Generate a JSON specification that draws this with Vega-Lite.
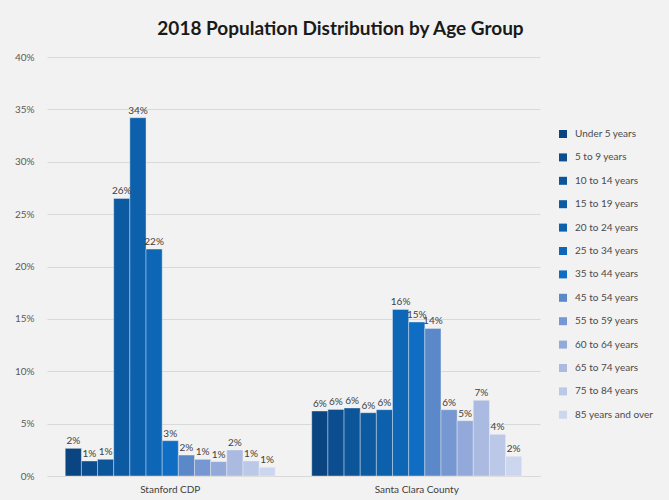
{
  "$schema": "https://vega.github.io/schema/vega-lite/v6.json",
  "width": 493,
  "height": 419,
  "autosize": {"type": "none"},
  "padding": {"left": 47, "top": 57, "right": 129, "bottom": 24},
  "background": "#f2f2f2",
  "title": {
    "text": "2018 Population Distribution by Age Group",
    "font": "Lato",
    "fontSize": 19,
    "fontWeight": "bold",
    "color": "#1a1a1a",
    "anchor": "middle",
    "dx": 47,
    "offset": 13
  },
  "config": {
    "view": {"stroke": null},
    "axis": {"labelFont": "Lato", "labelColor": "#595959", "labelFontSize": 10}
  },
  "data": {
    "values": [
      {"area": "Stanford CDP", "age": "Under 5 years", "pct": 0.0264, "label": "2%"},
      {"area": "Stanford CDP", "age": "5 to 9 years", "pct": 0.0143, "label": "1%"},
      {"area": "Stanford CDP", "age": "10 to 14 years", "pct": 0.0159, "label": "1%"},
      {"area": "Stanford CDP", "age": "15 to 19 years", "pct": 0.265, "label": "26%"},
      {"area": "Stanford CDP", "age": "20 to 24 years", "pct": 0.342, "label": "34%"},
      {"area": "Stanford CDP", "age": "25 to 34 years", "pct": 0.2166, "label": "22%"},
      {"area": "Stanford CDP", "age": "35 to 44 years", "pct": 0.0337, "label": "3%"},
      {"area": "Stanford CDP", "age": "45 to 54 years", "pct": 0.0200, "label": "2%"},
      {"area": "Stanford CDP", "age": "55 to 59 years", "pct": 0.0159, "label": "1%"},
      {"area": "Stanford CDP", "age": "60 to 64 years", "pct": 0.0137, "label": "1%"},
      {"area": "Stanford CDP", "age": "65 to 74 years", "pct": 0.0248, "label": "2%"},
      {"area": "Stanford CDP", "age": "75 to 84 years", "pct": 0.0143, "label": "1%"},
      {"area": "Stanford CDP", "age": "85 years and over", "pct": 0.0083, "label": "1%"},
      {"area": "Santa Clara County", "age": "Under 5 years", "pct": 0.062, "label": "6%"},
      {"area": "Santa Clara County", "age": "5 to 9 years", "pct": 0.0636, "label": "6%"},
      {"area": "Santa Clara County", "age": "10 to 14 years", "pct": 0.0649, "label": "6%"},
      {"area": "Santa Clara County", "age": "15 to 19 years", "pct": 0.0604, "label": "6%"},
      {"area": "Santa Clara County", "age": "20 to 24 years", "pct": 0.0633, "label": "6%"},
      {"area": "Santa Clara County", "age": "25 to 34 years", "pct": 0.159, "label": "16%"},
      {"area": "Santa Clara County", "age": "35 to 44 years", "pct": 0.147, "label": "15%"},
      {"area": "Santa Clara County", "age": "45 to 54 years", "pct": 0.1409, "label": "14%"},
      {"area": "Santa Clara County", "age": "55 to 59 years", "pct": 0.0633, "label": "6%"},
      {"area": "Santa Clara County", "age": "60 to 64 years", "pct": 0.0528, "label": "5%"},
      {"area": "Santa Clara County", "age": "65 to 74 years", "pct": 0.0722, "label": "7%"},
      {"area": "Santa Clara County", "age": "75 to 84 years", "pct": 0.0398, "label": "4%"},
      {"area": "Santa Clara County", "age": "85 years and over", "pct": 0.0188, "label": "2%"}
    ]
  },
  "encoding": {
    "x": {
      "field": "area",
      "type": "nominal",
      "sort": ["Stanford CDP", "Santa Clara County"],
      "scale": {"paddingInner": 0.148, "paddingOuter": 0.074},
      "axis": {
        "title": null,
        "labelAngle": 0,
        "ticks": false,
        "domainColor": "#d9d9d9",
        "labelPadding": 8,
        "labelFontSize": 10,
        "labelColor": "#404040"
      }
    },
    "xOffset": {
      "field": "age",
      "type": "nominal",
      "sort": ["Under 5 years", "5 to 9 years", "10 to 14 years", "15 to 19 years", "20 to 24 years", "25 to 34 years", "35 to 44 years", "45 to 54 years", "55 to 59 years", "60 to 64 years", "65 to 74 years", "75 to 84 years", "85 years and over"],
      "scale": {"paddingInner": 0, "paddingOuter": 0}
    },
    "y": {
      "field": "pct",
      "type": "quantitative",
      "scale": {"domain": [0, 0.4]},
      "axis": {
        "title": null,
        "format": ".0%",
        "values": [0, 0.05, 0.1, 0.15, 0.2, 0.25, 0.3, 0.35, 0.4],
        "labelOverlap": false,
        "ticks": false,
        "domain": false,
        "gridColor": "#d9d9d9",
        "gridWidth": 1,
        "labelPadding": 13
      }
    }
  },
  "layer": [
    {
      "mark": {"type": "bar", "stroke": "#f2f2f2", "strokeWidth": 0.4},
      "encoding": {
        "color": {
          "field": "age",
          "type": "nominal",
          "sort": ["Under 5 years", "5 to 9 years", "10 to 14 years", "15 to 19 years", "20 to 24 years", "25 to 34 years", "35 to 44 years", "45 to 54 years", "55 to 59 years", "60 to 64 years", "65 to 74 years", "75 to 84 years", "85 years and over"],
          "scale": {
            "domain": ["Under 5 years", "5 to 9 years", "10 to 14 years", "15 to 19 years", "20 to 24 years", "25 to 34 years", "35 to 44 years", "45 to 54 years", "55 to 59 years", "60 to 64 years", "65 to 74 years", "75 to 84 years", "85 years and over"],
            "range": ["#0a4581", "#0b4d8f", "#0c5598", "#0c5aa2", "#0d60ab", "#0e67b6", "#0f6ec3", "#5a88c9", "#7797d2", "#93a9da", "#aabae1", "#bbc8e8", "#ccd6ee"]
          },
          "legend": {
            "title": null,
            "orient": "none",
            "legendX": 511,
            "legendY": 72,
            "symbolType": "square",
            "symbolSize": 64,
            "symbolStrokeWidth": 0,
            "labelFont": "Lato",
            "labelFontSize": 10,
            "labelColor": "#4a4a4a",
            "rowPadding": 13.4,
            "labelOffset": 7
          }
        }
      }
    },
    {
      "mark": {"type": "text", "baseline": "bottom", "dy": -2, "font": "Lato", "fontSize": 10, "color": "#404040"},
      "encoding": {
        "text": {"field": "label"}
      }
    }
  ]
}
